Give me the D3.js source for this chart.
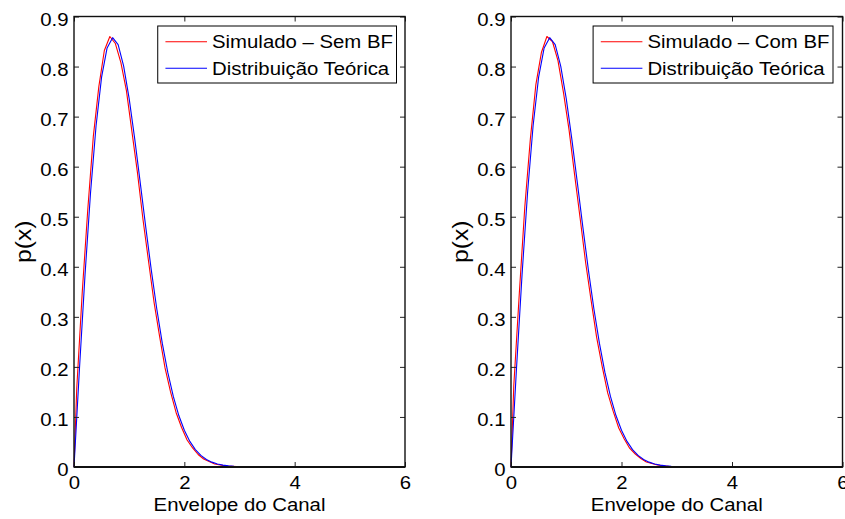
<!DOCTYPE html>
<html>
<head>
<meta charset="utf-8">
<script src="https://cdn.jsdelivr.net/npm/d3@7"></script>
<style>
  html, body { margin: 0; padding: 0; background: #fff; }
  svg { display: block; font-family: "Liberation Sans", Arial, Helvetica, sans-serif; }
</style>
</head>
<body>
<svg id="chart" width="845" height="519"></svg>
<script>
// Theoretical Rayleigh envelope density, sampled on a 0.1 grid
const theoryX = [0, 0.1, 0.2, 0.3, 0.4, 0.5, 0.6, 0.7, 0.8, 0.9,
  1.0, 1.1, 1.2, 1.3, 1.4, 1.5, 1.6, 1.7, 1.8, 1.9,
  2.0, 2.1, 2.2, 2.3, 2.4, 2.5, 2.6, 2.7, 2.8, 2.9,
  3.0, 3.1, 3.2, 3.3, 3.4, 3.5, 3.6, 3.7, 3.8, 3.9,
  4.0, 4.1, 4.2, 4.3, 4.4, 4.5, 4.6, 4.7, 4.8, 4.9, 5.0];
const theoryP = [0, 0.1980, 0.3843, 0.5484, 0.6817, 0.7788, 0.8372, 0.8577, 0.8437, 0.8007,
  0.7358, 0.6560, 0.5686, 0.4798, 0.3944, 0.3162, 0.2474, 0.1890, 0.1410, 0.1028,
  0.0733, 0.0511, 0.0348, 0.0232, 0.0151, 0.0097, 0.0060, 0.0037, 0.0022, 0.0013,
  0.0007, 0.0004, 0.0002, 0.0001, 0.0001, 0, 0, 0, 0, 0,
  0, 0, 0, 0, 0, 0, 0, 0, 0, 0, 0];

// Simulated histograms (bin centres)
const simX = [0, 0.05, 0.15, 0.25, 0.35, 0.45, 0.55, 0.65, 0.75, 0.85, 0.95,
  1.05, 1.15, 1.25, 1.35, 1.45, 1.55, 1.65, 1.75, 1.85, 1.95,
  2.05, 2.15, 2.25, 2.35, 2.45, 2.55, 2.65, 2.75, 2.85, 2.95,
  3.05, 3.15, 3.25, 3.35, 3.45, 3.55, 3.65, 3.75, 3.85, 3.95, 4.05];
const simSemBF = [0, 0.158, 0.350, 0.515, 0.660, 0.760, 0.832, 0.860, 0.846, 0.808, 0.752,
  0.670, 0.588, 0.495, 0.412, 0.330, 0.262, 0.198, 0.150, 0.109, 0.079,
  0.054, 0.038, 0.025, 0.016, 0.011, 0.006, 0.004, 0.002, 0.0015, 0.0008,
  0.0004, 0.0002, 0.0001, 0.0001, 0, 0, 0, 0, 0, 0, 0];
const simComBF = [0, 0.162, 0.346, 0.520, 0.655, 0.764, 0.828, 0.860, 0.850, 0.812, 0.748,
  0.674, 0.585, 0.498, 0.409, 0.333, 0.259, 0.201, 0.148, 0.111, 0.078,
  0.056, 0.037, 0.026, 0.017, 0.010, 0.007, 0.004, 0.0025, 0.0013, 0.0008,
  0.0005, 0.0002, 0.0001, 0, 0.0001, 0, 0, 0, 0, 0, 0];

const xTickValues = [0, 2, 4, 6];
const yTickValues = [0, 0.1, 0.2, 0.3, 0.4, 0.5, 0.6, 0.7, 0.8, 0.9];
const legendSem = ["Simulado \u2013 Sem BF", "Distribui\u00e7\u00e3o Te\u00f3rica"];
const legendCom = ["Simulado \u2013 Com BF", "Distribui\u00e7\u00e3o Te\u00f3rica"];
const xLabelText = "Envelope do Canal";
const yLabelText = "p(x)";

// ---- layout ----
const FONT = 18.5;    // base font size
const SX = 1.1;       // horizontal stretch of glyphs
const TOP = 16.5, BOTTOM = 467;
const panels = [
  { left: 74, right: 405, sim: simSemBF, legend: legendSem, legendGap: 8.5 },
  { left: 511, right: 842.5, sim: simComBF, legend: legendCom, legendGap: 9.5 }
];
const RED = "#ff0000", BLUE = "#0000ff";

const svg = d3.select("#chart");
svg.append("rect").attr("width", 845).attr("height", 519).attr("fill", "#fff");

const zip = (xs, ys) => xs.map((v, i) => [v, ys[i]]);
const yFmt = d => d === 0 ? "0" : d.toFixed(1);

panels.forEach(p => {
  const x = d3.scaleLinear().domain([0, 6]).range([p.left, p.right]);
  const y = d3.scaleLinear().domain([0, 0.9]).range([BOTTOM, TOP]);
  const g = svg.append("g");

  const line = d3.line().x(d => x(d[0])).y(d => y(d[1]));

  // curves: simulation first, theory on top
  g.append("path").datum(zip(simX, p.sim)).attr("d", line)
    .attr("fill", "none").attr("stroke", RED).attr("stroke-width", 1.1)
    .attr("stroke-linejoin", "round");
  g.append("path").datum(zip(theoryX, theoryP)).attr("d", line)
    .attr("fill", "none").attr("stroke", BLUE).attr("stroke-width", 1.1)
    .attr("stroke-linejoin", "round");

  // axes with inward ticks on all four sides
  const styleTicks = sel => {
    sel.select(".domain").remove();
    sel.selectAll(".tick line").attr("stroke", "#222").attr("stroke-width", 1);
  };
  const gb = g.append("g").attr("transform", `translate(0,${BOTTOM})`)
    .call(d3.axisBottom(x).tickValues(xTickValues).tickSize(-5).tickFormat(d3.format("d")));
  styleTicks(gb);
  gb.selectAll(".tick text")
    .attr("y", null).attr("dy", null).attr("fill", "#000")
    .attr("font-size", FONT).attr("font-family", null)
    .attr("text-anchor", "middle")
    .attr("transform", `translate(0,22) scale(${SX},1)`);

  const gt = g.append("g").attr("transform", `translate(0,${TOP})`)
    .call(d3.axisTop(x).tickValues(xTickValues).tickSize(-5).tickFormat(""));
  styleTicks(gt);

  const gl = g.append("g").attr("transform", `translate(${p.left},0)`)
    .call(d3.axisLeft(y).tickValues(yTickValues).tickSize(-5).tickFormat(yFmt));
  styleTicks(gl);
  gl.selectAll(".tick text")
    .attr("x", null).attr("dy", null).attr("fill", "#000")
    .attr("font-size", FONT).attr("font-family", null)
    .attr("text-anchor", "end")
    .attr("transform", `translate(-5.5,8.5) scale(${SX},1)`);

  const gr = g.append("g").attr("transform", `translate(${p.right},0)`)
    .call(d3.axisRight(y).tickValues(yTickValues).tickSize(-5).tickFormat(""));
  styleTicks(gr);

  // axes box
  g.append("rect")
    .attr("x", p.left).attr("y", TOP)
    .attr("width", p.right - p.left).attr("height", BOTTOM - TOP)
    .attr("fill", "none").attr("stroke", "#111").attr("stroke-width", 1.4);
  g.append("line").attr("x1", p.left).attr("x2", p.right)
    .attr("y1", BOTTOM).attr("y2", BOTTOM)
    .attr("stroke", "#111").attr("stroke-width", 2);

  // axis labels
  g.append("text").text(xLabelText)
    .attr("font-size", FONT).attr("text-anchor", "middle").attr("fill", "#000")
    .attr("transform", `translate(${(p.left + p.right) / 2},511) scale(${SX},1)`);
  g.append("text").text(yLabelText)
    .attr("font-size", FONT).attr("text-anchor", "middle").attr("fill", "#000")
    .attr("transform", `translate(${p.left - 43.5},${(TOP + BOTTOM) / 2}) rotate(-90) scale(1.34,1.15)`);

  // legend
  const lg = g.append("g");
  const rowY = [41.7, 68.3];
  const colors = [RED, BLUE];
  const texts = lg.selectAll("text").data(p.legend).join("text")
    .text(d => d).attr("font-size", FONT).attr("fill", "#000");
  const maxW = d3.max(texts.nodes(), n => n.getComputedTextLength()) * SX;
  const boxW = 54.3 + maxW + 3.5;
  const bx = p.right - p.legendGap - boxW;
  lg.insert("rect", "text")
    .attr("x", bx).attr("y", 26).attr("width", boxW).attr("height", 57)
    .attr("fill", "#fff").attr("stroke", "#000").attr("stroke-width", 1);
  lg.selectAll("line").data(p.legend).join("line")
    .attr("x1", bx + 7.7).attr("x2", bx + 49.3)
    .attr("y1", (d, i) => rowY[i]).attr("y2", (d, i) => rowY[i])
    .attr("stroke", (d, i) => colors[i]).attr("stroke-width", 1.1);
  texts.attr("transform", (d, i) => `translate(${bx + 54.3},${rowY[i] + 6.5}) scale(${SX},1)`);
});
</script>
</body>
</html>
